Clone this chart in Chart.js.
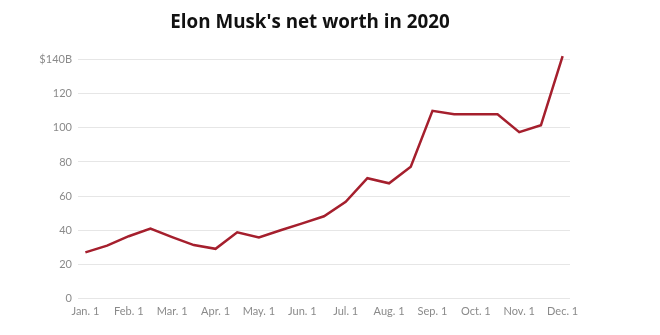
<!DOCTYPE html>
<html>
<head>
<meta charset="utf-8">
<script src="https://cdn.jsdelivr.net/npm/chart.js@4"></script>
<style>
  html, body { margin: 0; padding: 0; background: #fff; }
  #wrap { width: 660px; height: 335px; position: relative; }
</style>
</head>
<body>
<div id="wrap"><canvas id="worthChart"></canvas></div>
<script>
// tick labels on the x axis (first of each month)
const months = ['Jan. 1', 'Feb. 1', 'Mar. 1', 'Apr. 1', 'May. 1', 'Jun. 1',
                'Jul. 1', 'Aug. 1', 'Sep. 1', 'Oct. 1', 'Nov. 1', 'Dec. 1'];
// net worth in $B, one reading every half month from Jan. 1 to Dec. 1
const netWorth = [27, 31, 36.5, 41, 36, 31.3, 29.1, 38.8, 35.8, 40, 44, 48.2,
                  56.7, 70.5, 67.5, 77.2, 110, 108, 108, 108, 97.5, 101.5, 142];
const yTicks = [0, 20, 40, 60, 80, 100, 120, 140];

document.addEventListener('DOMContentLoaded', () => {
    const ctx = document.getElementById('worthChart').getContext('2d');
    const points = netWorth.map((v, i) => ({ x: i / 2, y: v }));

    new Chart(ctx, {
        type: 'line',
        data: {
            datasets: [{
                data: points,
                borderColor: '#a51f2d',
                borderWidth: 2.5,
                pointRadius: 0,
                tension: 0,
                fill: false,
                clip: false
            }]
        },
        options: {
            responsive: true,
            maintainAspectRatio: false,
            animation: false,
            layout: { padding: { left: 0, right: 40, top: 0, bottom: 0 } },
            plugins: {
                legend: { display: false },
                tooltip: { enabled: false },
                title: {
                    display: true,
                    text: "Elon Musk's net worth in 2020",
                    color: '#111',
                    font: { family: 'Open Sans', size: 18.8, weight: 'bold' },
                    padding: { top: 11.5, bottom: 17 }
                }
            },
            scales: {
                x: {
                    type: 'linear',
                    min: -0.17,
                    max: 11.17,
                    afterBuildTicks: (scale) => {
                        scale.ticks = months.map((m, i) => ({ value: i }));
                    },
                    afterFit: (scale) => { scale.height = 36.5; },
                    grid: { display: false, drawTicks: false },
                    border: { display: false },
                    ticks: {
                        padding: 6,
                        color: '#8a8a8a',
                        font: { family: 'Lato', size: 11 },
                        maxRotation: 0,
                        autoSkip: false,
                        callback: (value) => months[value]
                    }
                },
                y: {
                    min: 0,
                    max: 145,
                    afterBuildTicks: (scale) => {
                        scale.ticks = yTicks.map(v => ({ value: v }));
                    },
                    afterFit: (scale) => { scale.width = 78; },
                    grid: { color: '#e6e6e6', lineWidth: 1, drawTicks: false },
                    border: { display: false },
                    ticks: {
                        padding: 6,
                        color: '#8a8a8a',
                        font: { family: 'Lato', size: 11 },
                        callback: (value) => value === 140 ? '$140B' : value
                    }
                },
                // empty right margin so the title centres like the original
                yRight: {
                    position: 'right',
                    min: 0,
                    max: 145,
                    afterFit: (scale) => { scale.width = 50; },
                    grid: { display: false, drawTicks: false },
                    border: { display: false },
                    ticks: { display: false }
                }
            }
        }
    });
});
</script>
</body>
</html>
